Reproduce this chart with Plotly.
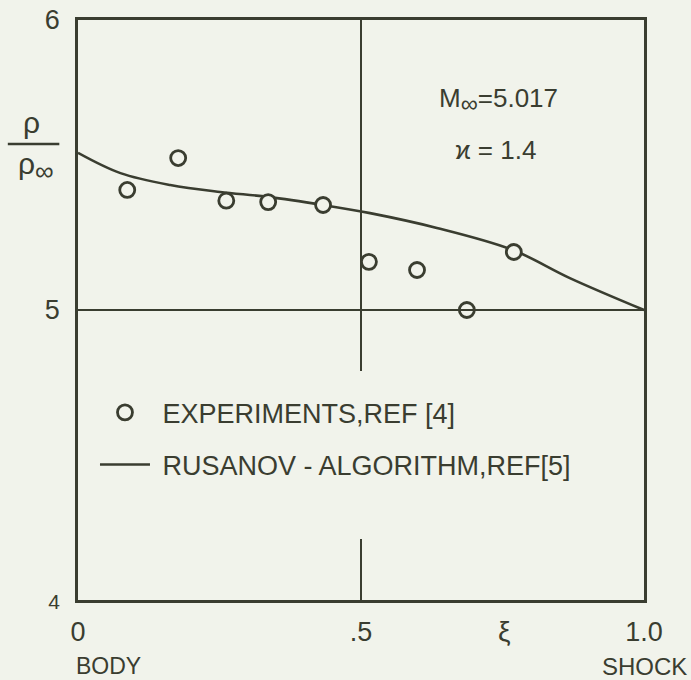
import plotly.graph_objects as go

# experiments, REF [4]
exp_x = [0.087, 0.177, 0.262, 0.336, 0.433, 0.514, 0.599, 0.687, 0.770]
exp_y = [5.414, 5.524, 5.377, 5.372, 5.362, 5.166, 5.138, 5.000, 5.200]

# Rusanov algorithm, REF [5]
rus_x = [0.0, 0.075, 0.163, 0.251, 0.336, 0.433, 0.516, 0.634, 0.768, 0.869, 1.0]
rus_y = [5.542, 5.472, 5.431, 5.407, 5.390, 5.362, 5.334, 5.283, 5.207, 5.110, 5.0]

x_ticks = [0, 0.5, 1.0]
x_ticktext = ["0", ".5", "1.0"]
y_ticks = [4, 5, 6]
y_ticktext = ["<span style='font-size:21px'>4</span>", "5", "6"]

INK = "#3a3d30"
BG = "#f1f3eb"
FONT = "Liberation Sans"

fig = go.Figure()
fig.add_trace(go.Scatter(
    x=rus_x, y=rus_y, mode="lines", line=dict(color=INK, width=2.6, shape="spline", smoothing=1.0),
    name="\u00a0RUSANOV - ALGORITHM,REF[5]", legendrank=2, legendgroup="b"))
fig.add_trace(go.Scatter(
    x=exp_x, y=exp_y, mode="markers",
    marker=dict(symbol="circle", size=15, color=BG, line=dict(color=INK, width=2.8)),
    name="\u00a0EXPERIMENTS,REF [4]", legendrank=1, legendgroup="a"))

shapes = [
    dict(type="line", xref="x", yref="y", x0=0, x1=1, y0=5, y1=5, line=dict(color=INK, width=2)),
    dict(type="line", xref="x", yref="y", x0=0.5, x1=0.5, y0=6, y1=4.79, line=dict(color=INK, width=2)),
    dict(type="line", xref="x", yref="y", x0=0.5, x1=0.5, y0=4.21, y1=4, line=dict(color=INK, width=2)),
    dict(type="line", xref="paper", yref="paper", x0=-0.124, x1=-0.033, y0=0.786, y1=0.786,
         line=dict(color=INK, width=2.5)),
]


def ann(text, x, y, size, xanchor="center"):
    return dict(text=text, x=x, y=y, xref="paper", yref="paper", showarrow=False,
                xanchor=xanchor, yanchor="middle", font=dict(size=size, color=INK, family=FONT))


annotations = [
    ann("M<sub><span style='font-size:24px'>∞</span></sub>=5.017", 0.743, 0.862, 26),
    ann("ϰ = 1.4", 0.738, 0.776, 26),
    ann("ρ", -0.082, 0.823, 30),
    ann("ρ<sub><span style='font-size:26px'>∞</span></sub>", -0.075, 0.748, 30),
    ann("ξ", 0.754, -0.055, 28),
    ann("BODY", 0.054, -0.114, 23),
    ann("SHOCK", 1.08, -0.114, 24, xanchor="right"),
]

fig.update_layout(
    width=691, height=680,
    margin=dict(l=77.5, r=46.5, t=20, b=80),
    paper_bgcolor=BG, plot_bgcolor=BG,
    font=dict(family=FONT, color=INK, size=27),
    showlegend=True,
    legend=dict(x=0.03, y=0.365, xanchor="left", yanchor="top", bgcolor="rgba(0,0,0,0)",
                font=dict(size=27, color=INK, family=FONT), traceorder="grouped",
                tracegroupgap=14, itemwidth=50),
    shapes=shapes, annotations=annotations,
    xaxis=dict(range=[0, 1], showgrid=False, zeroline=False, showline=True, mirror=True,
               linecolor=INK, linewidth=2.5, ticks="", tickvals=x_ticks, ticktext=x_ticktext,
               tickfont=dict(size=27, color=INK, family=FONT), ticklabelstandoff=6,
               ticklabeloverflow="allow", automargin=False),
    yaxis=dict(range=[4, 6], showgrid=False, zeroline=False, showline=True, mirror=True,
               linecolor=INK, linewidth=2.5, ticks="", tickvals=y_ticks, ticktext=y_ticktext,
               tickfont=dict(size=27, color=INK, family=FONT), ticklabelstandoff=10,
               ticklabeloverflow="allow", automargin=False),
)

# remove the page's default 8px body margin so the figure fills the window like the reference
fig.write_html("out.html",
               config={"displayModeBar": False},
               post_script="document.body.style.margin='0px';"
                           "document.body.style.background='#f1f3eb';")
